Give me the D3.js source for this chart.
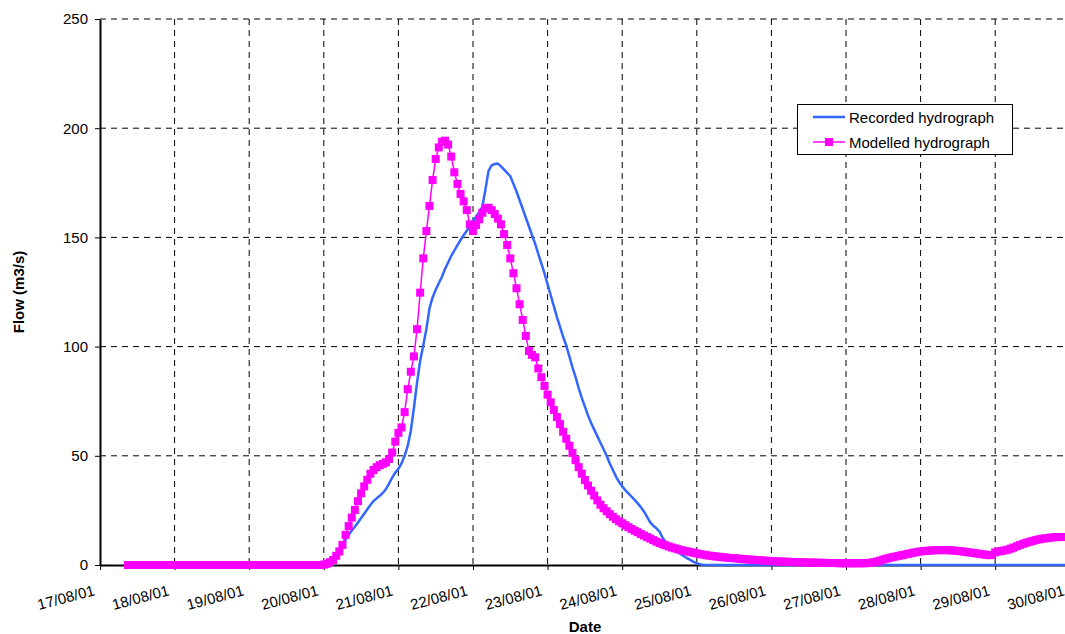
<!DOCTYPE html>
<html>
<head>
<meta charset="utf-8">
<script src="https://cdn.jsdelivr.net/npm/d3@7/dist/d3.min.js"></script>
<style>
  html, body { margin: 0; padding: 0; background: #ffffff; }
  svg { display: block; font-family: Arial, "Liberation Sans", sans-serif; }
</style>
</head>
<body>
<svg id="chart" width="1065" height="634"></svg>
<script>
// ---------------- DATA ----------------
const seriesNames = ["Recorded hydrograph", "Modelled hydrograph"];
const firstTimestamp = "2001-08-17T09:00:00Z";   // hourly series start
const xTickLabels = ["17/08/01","18/08/01","19/08/01","20/08/01","21/08/01","22/08/01","23/08/01",
                     "24/08/01","25/08/01","26/08/01","27/08/01","28/08/01","29/08/01","30/08/01"];
const yTickValues = [0, 50, 100, 150, 200, 250];

// Recorded hydrograph, hourly values (m3/s)
const recordedFlow = [
  // 17/08 09:00-23:00
  0,0,0,0,0,0,0,0,0,0,0,0,0,0,0,
  // 18/08
  0,0,0,0,0,0,0,0,0,0,0,0,0,0,0,0,0,0,0,0,0,0,0,0,
  // 19/08
  0,0,0,0,0,0,0,0,0,0,0,0,0,0,0,0,0,0,0,0,0,0,0,0,
  // 20/08
  0,0.3,1,2.2,3.5,6,8.5,11.5,13.8,15.8,17.5,19.5,21.5,23.5,25.5,27.5,29.3,30.5,31.7,33,34.8,37.3,40,42.3,
  // 21/08
  44,46.5,50,54.5,61.5,72,83.5,93.5,100.5,108,117.5,122.5,126,129,132,135.5,138.5,141.5,144,146.5,148.8,151,153,155.2,
  // 22/08
  157.5,159.5,161.5,164,172,180.5,183,183.6,183.8,182.5,181,179.5,178,174.5,171,167,163,159,155,151,147,142.5,138,133.5,
  // 23/08
  128.5,123.5,118.5,113.5,109,104.5,100.5,95.5,90.5,86,81,76.5,72.5,68.5,65,62,59,56,53,50,46.5,43.5,40.5,38,
  // 24/08
  36,34.3,32.8,31.3,29.8,28.2,26.5,24.5,22,19.5,18,16.8,15.3,12.5,10.3,9.2,8,6.7,5.7,4.8,3.9,3,2.2,1.4,
  // 25/08
  0.8,0.3,0,0,0,0,0,0,0,0,0,0,0,0,0,0,0,0,0,0,0,0,0,0,
  // 26/08
  0,0,0,0,0,0,0,0,0,0,0,0,0,0,0,0,0,0,0,0,0,0,0,0,
  // 27/08
  0,0,0,0,0,0,0,0,0,0,0,0,0,0,0,0,0,0,0,0,0,0,0,0,
  // 28/08
  0,0,0,0,0,0,0,0,0,0,0,0,0,0,0,0,0,0,0,0,0,0,0,0,
  // 29/08
  0,0,0,0,0,0,0,0,0,0,0,0,0,0,0,0,0,0,0,0,0,0,0,0,
  // 30/08 00:00
  0
];

// Modelled hydrograph, hourly values (m3/s)
const modelledFlow = [
  // 17/08 09:00-23:00
  0,0,0,0,0,0,0,0,0,0,0,0,0,0,0,
  // 18/08
  0,0,0,0,0,0,0,0,0,0,0,0,0,0,0,0,0,0,0,0,0,0,0,0,
  // 19/08
  0,0,0,0,0,0,0,0,0,0,0,0,0,0,0,0,0,0,0,0,0,0,0,0,
  // 20/08
  0.2,0.6,1.3,2.3,4.2,6.2,9.2,13.8,17.8,21.7,25.2,29.2,32.8,36,39,41.8,43.5,44.8,45.7,46.3,47,48.5,51.5,56.5,
  // 21/08
  60.5,63,70,80.5,88.5,95.5,108,124.7,140.4,152.9,164.4,176.3,185.9,191.2,193.8,194.3,192.5,187,179.8,174.5,169.9,166.5,162.5,156,
  // 22/08
  152.9,155.7,158.3,161.3,163.3,163.6,162.5,160.7,158.6,156,151.5,146.5,140.4,133.6,126.7,119.4,112.2,104.9,98,96.2,95.1,90,86,82,
  // 23/08
  78,74.5,71,67.8,64.5,61,57.8,54.6,51.3,48,44.8,41.8,38.9,36.4,34,31.8,29.6,27.6,26,24.6,23.3,22.1,21,20,
  // 24/08
  19.1,18.2,17.3,16.5,15.7,15,14.2,13.5,12.8,12.1,11.4,10.7,10.1,9.5,9,8.5,8,7.6,7.2,6.8,6.5,6.2,5.9,5.6,
  // 25/08
  5.3,5,4.8,4.5,4.3,4.1,3.9,3.8,3.6,3.5,3.3,3.2,3.1,3,2.8,2.7,2.6,2.5,2.4,2.3,2.2,2.1,2,1.9,
  // 26/08
  1.8,1.7,1.6,1.6,1.5,1.5,1.4,1.4,1.3,1.3,1.2,1.2,1.1,1.1,1.1,1,1,1,0.9,0.9,0.9,0.9,0.8,0.8,
  // 27/08
  0.8,0.8,0.8,0.8,0.8,0.8,0.8,0.9,1,1.3,1.6,2,2.5,2.9,3.3,3.6,3.9,4.2,4.5,4.8,5.1,5.4,5.7,6,
  // 28/08
  6.2,6.4,6.5,6.6,6.7,6.8,6.8,6.8,6.8,6.8,6.7,6.6,6.4,6.3,6.1,5.9,5.7,5.5,5.3,5.1,4.9,4.7,4.5,4.6,
  // 29/08
  5.8,6.2,6.4,6.7,7,7.5,8,8.6,9.2,9.7,10.2,10.6,11,11.4,11.7,12,12.2,12.4,12.6,12.7,12.8,12.8,12.8,12.8,
  // 30/08 00:00
  12.7
];

// ---------------- CHART ----------------
const svg = d3.select("#chart");
const plot = { left: 100, top: 19, right: 1069.8, bottom: 565 };

const parseTick = d3.utcParse("%d/%m/%y");
const tickDates = xTickLabels.map(parseTick);

const x = d3.scaleUtc()
  .domain([tickDates[0], tickDates[tickDates.length - 1]])
  .range([plot.left, plot.right]);
const y = d3.scaleLinear()
  .domain([0, 250])
  .range([plot.bottom, plot.top]);

const t0 = new Date(firstTimestamp).getTime();
const toPoints = arr => arr.map((v, i) => ({ t: new Date(t0 + i * 3600e3), v }));
const recorded = toPoints(recordedFlow);
const modelled = toPoints(modelledFlow);

// gridlines
const grid = svg.append("g").attr("class", "grid");
grid.selectAll("line.h").data(yTickValues.filter(v => v > 0)).join("line")
  .attr("x1", plot.left).attr("x2", plot.right)
  .attr("y1", d => y(d)).attr("y2", d => y(d))
  .attr("stroke", "#000").attr("stroke-width", 1).attr("stroke-dasharray", "6,5");
grid.selectAll("line.v").data(tickDates.slice(1)).join("line")
  .attr("x1", d => x(d)).attr("x2", d => x(d))
  .attr("y1", plot.top).attr("y2", plot.bottom)
  .attr("stroke", "#000").attr("stroke-width", 1).attr("stroke-dasharray", "6,5");

// axes
const yAxis = svg.append("g")
  .attr("transform", `translate(${plot.left},0)`)
  .call(d3.axisLeft(y).tickValues(yTickValues).tickSize(5).tickSizeOuter(0).tickPadding(7));
yAxis.select(".domain").attr("stroke", "#000").attr("stroke-width", 2);
yAxis.selectAll(".tick line").attr("stroke", "#000").attr("stroke-width", 1);
yAxis.selectAll(".tick text").attr("font-size", 15).attr("fill", "#000")
  .attr("font-family", "Arial, 'Liberation Sans', sans-serif");

const xAxis = svg.append("g")
  .attr("transform", `translate(0,${plot.bottom})`)
  .call(d3.axisBottom(x).tickValues(tickDates).tickSize(5).tickSizeOuter(0)
    .tickFormat((d, i) => xTickLabels[i]));
xAxis.select(".domain").attr("stroke", "#000").attr("stroke-width", 2);
xAxis.selectAll(".tick line").attr("stroke", "#000").attr("stroke-width", 1);
xAxis.selectAll(".tick text")
  .attr("font-size", 15).attr("fill", "#000")
  .attr("font-family", "Arial, 'Liberation Sans', sans-serif")
  .attr("text-anchor", "end")
  .attr("y", null).attr("dy", null)
  .attr("transform", "translate(-5,30) rotate(-15)");

// axis titles
svg.append("text")
  .attr("transform", `translate(24,${(plot.top + plot.bottom) / 2}) rotate(-90)`)
  .attr("text-anchor", "middle").attr("font-size", 15).attr("font-weight", "bold")
  .text("Flow (m3/s)");
svg.append("text")
  .attr("x", 585).attr("y", 632)
  .attr("text-anchor", "middle").attr("font-size", 15).attr("font-weight", "bold")
  .text("Date");

// series
const line = d3.line().x(d => x(d.t)).y(d => y(d.v));
svg.append("path").datum(recorded)
  .attr("fill", "none").attr("stroke", "#3366ff").attr("stroke-width", 2.5)
  .attr("stroke-linejoin", "round").attr("d", line);

svg.append("path").datum(modelled)
  .attr("fill", "none").attr("stroke", "#ff00ff").attr("stroke-width", 1.5)
  .attr("d", line);
const ms = 8;
svg.append("g").selectAll("rect").data(modelled).join("rect")
  .attr("x", d => x(d.t) - ms / 2).attr("y", d => y(d.v) - ms / 2)
  .attr("width", ms).attr("height", ms)
  .attr("fill", "#ff00ff");

// legend
const lg = svg.append("g");
lg.append("rect").attr("x", 797.5).attr("y", 104.5).attr("width", 215).attr("height", 50)
  .attr("fill", "#fff").attr("stroke", "#000").attr("stroke-width", 1);
lg.append("line").attr("x1", 813).attr("x2", 845).attr("y1", 117).attr("y2", 117)
  .attr("stroke", "#3366ff").attr("stroke-width", 2.5);
lg.append("line").attr("x1", 813).attr("x2", 845).attr("y1", 142).attr("y2", 142)
  .attr("stroke", "#ff00ff").attr("stroke-width", 1.5);
lg.append("rect").attr("x", 829 - ms / 2).attr("y", 142 - ms / 2).attr("width", ms).attr("height", ms)
  .attr("fill", "#ff00ff");
lg.append("text").attr("x", 849).attr("y", 123).attr("font-size", 15).text(seriesNames[0]);
lg.append("text").attr("x", 849).attr("y", 147.5).attr("font-size", 15).text(seriesNames[1]);
</script>
</body>
</html>
